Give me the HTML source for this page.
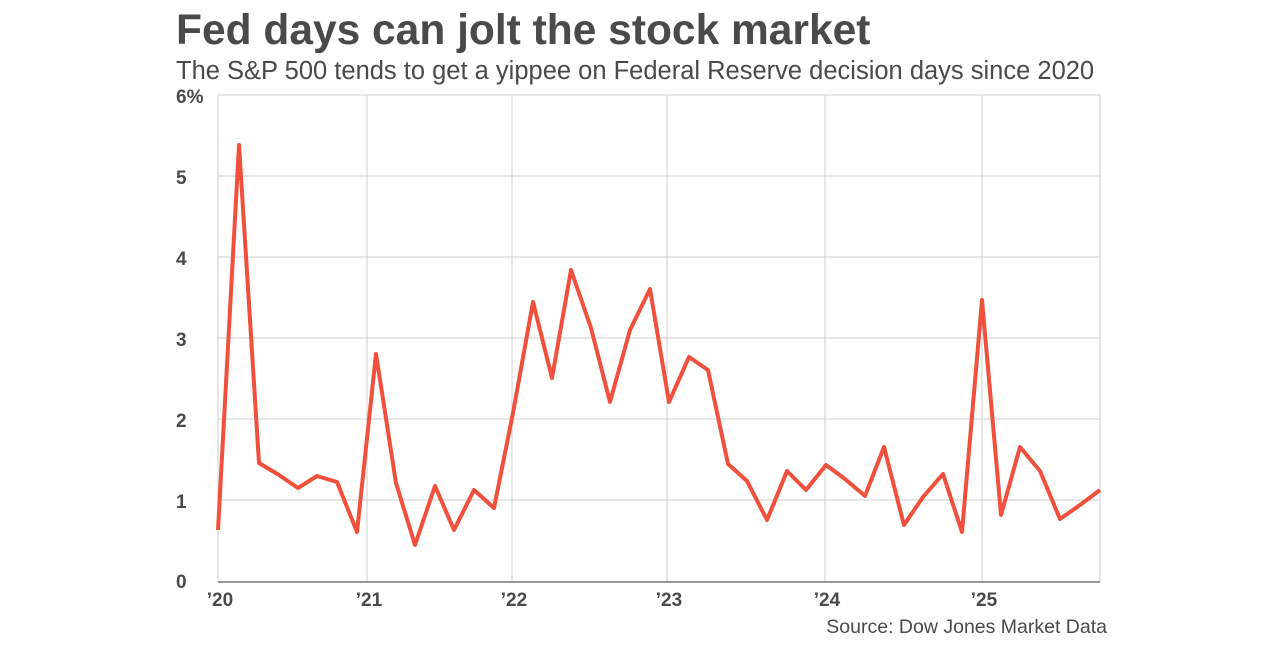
<!DOCTYPE html>
<html><head><meta charset="utf-8"><style>
body{margin:0;width:1280px;height:640px;background:#fff;overflow:hidden;font-family:"Liberation Sans",sans-serif}
</style></head><body>
<svg width="1280" height="640" xmlns="http://www.w3.org/2000/svg" font-family="Liberation Sans, sans-serif">
<text x="176" y="44" font-size="42.5" font-weight="bold" fill="#4a4a4a">Fed days can jolt the stock market</text>
<text x="176" y="79" font-size="25.5" fill="#4a4a4a">The S&amp;P 500 tends to get a yippee on Federal Reserve decision days since 2020</text>
<g stroke="#cfcfcf" stroke-width="1">
<line x1="218" y1="95" x2="1100" y2="95"/>
<line x1="218" y1="176" x2="1100" y2="176"/>
<line x1="218" y1="257" x2="1100" y2="257"/>
<line x1="218" y1="338" x2="1100" y2="338"/>
<line x1="218" y1="419" x2="1100" y2="419"/>
<line x1="218" y1="500" x2="1100" y2="500"/>
<line x1="218" y1="95" x2="218" y2="582"/>
<line x1="367" y1="95" x2="367" y2="582"/>
<line x1="512" y1="95" x2="512" y2="582"/>
<line x1="667" y1="95" x2="667" y2="582"/>
<line x1="825" y1="95" x2="825" y2="582"/>
<line x1="982" y1="95" x2="982" y2="582"/>
<line x1="1100" y1="95" x2="1100" y2="582"/>
</g>
<line x1="218" y1="582" x2="1100" y2="582" stroke="#777" stroke-width="1.5"/>
<g font-size="19" fill="#4a4a4a" font-weight="bold">
<text x="176" y="103">6%</text>
<text x="176" y="184">5</text>
<text x="176" y="265">4</text>
<text x="176" y="346">3</text>
<text x="176" y="427">2</text>
<text x="176" y="508">1</text>
<text x="176" y="588">0</text>
<g text-anchor="middle">
<text x="220" y="606">’20</text>
<text x="369" y="606">’21</text>
<text x="514" y="606">’22</text>
<text x="669" y="606">’23</text>
<text x="827" y="606">’24</text>
<text x="984" y="606">’25</text>
</g></g>
<polyline fill="none" stroke="#f0503c" stroke-width="4" stroke-linejoin="round" points="218,530 239,145 259,463 279,475 298,488 317,476 337,482 357,532 376,354 396,483 415,545 435,486 454,530 474,490 494,508 513,413 533,302 552,378 571,270 591,328 610,402 630,330 650,289 669,402 689,357 708,370 728,464 747,481 767,520 787,471 806,490 826,465 845,479 865,496 884,447 904,525 923,497 943,474 962,532 982,300 1001,515 1020,447 1040,471 1060,519 1080,505 1100,490"/>
<text x="1107" y="633" font-size="19.5" fill="#4a4a4a" text-anchor="end">Source: Dow Jones Market Data</text>
</svg>
</body></html>
